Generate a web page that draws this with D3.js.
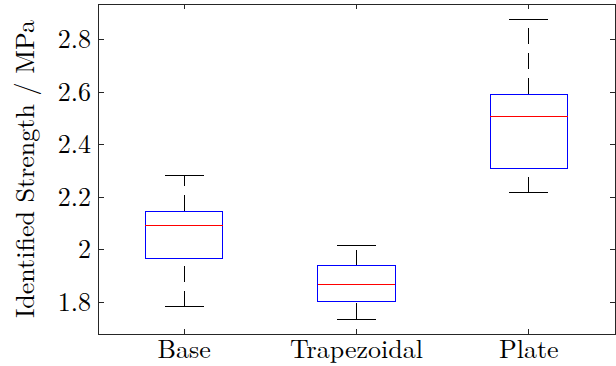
<!DOCTYPE html>
<html>
<head>
<meta charset="utf-8">
<script src="https://d3js.org/d3.v7.min.js"></script>
</head>
<body style="margin:0; background:#fff">
<script>
// values
var categories = ["Base", "Trapezoidal", "Plate"];
var lowerWhisker = [1.780, 1.734, 2.215];
var q1 = [1.964, 1.801, 2.307];
var median = [2.090, 1.864, 2.507];
var q3 = [2.145, 1.937, 2.590];
var upperWhisker = [2.279, 2.013, 2.877];
var yTicks = [1.8, 2, 2.2, 2.4, 2.6, 2.8];
var yLabel = "Identified Strength / MPa";

var margin = {top: 4, right: 1, bottom: 32, left: 98};
var width = 616 - margin.left - margin.right;
var height = 366 - margin.top - margin.bottom;
var fontSize = 26;
var fontFamily = "'Latin Modern Roman', 'Liberation Serif', serif";

var boxes = categories.map(function(c, i) {
  return {name: c, lo: lowerWhisker[i], q1: q1[i], med: median[i], q3: q3[i], hi: upperWhisker[i]};
});

// 5% padding round the data range, like the auto limits of the original
var yMin = d3.min(lowerWhisker), yMax = d3.max(upperWhisker);
var pad = (yMax - yMin) * 0.05;

var x = d3.scaleBand().domain(categories).range([0, width]).padding(0);
var y = d3.scaleLinear().domain([yMin - pad, yMax + pad]).range([height, 0]);

var boxW = x.bandwidth() * 0.45;
var capW = boxW / 2;
function cx(d) { return x(d.name) + x.bandwidth() / 2; }

var svg = d3.select("body").append("svg")
  .attr("width", 616)
  .attr("height", 366)
  .attr("font-family", fontFamily)
  .style("display", "block");

var g = svg.append("g")
  .attr("transform", "translate(" + margin.left + "," + margin.top + ")");

// axes with inward ticks on all four sides
function styleAxis(sel) {
  sel.attr("font-family", fontFamily).attr("font-size", fontSize);
  sel.select(".domain").remove();
  sel.selectAll("line").attr("stroke", "#262626").attr("shape-rendering", "crispEdges");
  sel.selectAll("text").attr("fill", "#000");
}

g.append("g")
  .call(d3.axisLeft(y).tickValues(yTicks).tickSize(-6).tickPadding(7).tickFormat(function(d) { return String(d); }))
  .call(styleAxis);

g.append("g")
  .attr("transform", "translate(" + width + ",0)")
  .call(d3.axisRight(y).tickValues(yTicks).tickSize(-5).tickFormat(""))
  .call(styleAxis);

g.append("g")
  .attr("transform", "translate(0," + height + ")")
  .call(d3.axisBottom(x).tickSize(-5).tickPadding(5.5))
  .call(styleAxis);

g.append("g")
  .call(d3.axisTop(x).tickSize(-5).tickFormat(""))
  .call(styleAxis);

g.append("rect")
  .attr("x", 0.5).attr("y", 0.5)
  .attr("width", width - 0.5).attr("height", height - 0.5)
  .attr("fill", "none")
  .attr("stroke", "#262626")
  .attr("shape-rendering", "crispEdges");

var box = g.selectAll(".box")
  .data(boxes)
  .enter()
  .append("g")
    .attr("class", "box")
    .attr("shape-rendering", "crispEdges");

// whiskers are drawn bottom to top, so the dash pattern starts low
box.append("line")
  .attr("x1", cx).attr("x2", cx)
  .attr("y1", function(d) { return y(d.q3); })
  .attr("y2", function(d) { return y(d.hi); })
  .attr("stroke", "#000")
  .attr("stroke-dasharray", "16,9");

box.append("line")
  .attr("x1", cx).attr("x2", cx)
  .attr("y1", function(d) { return y(d.lo); })
  .attr("y2", function(d) { return y(d.q1); })
  .attr("stroke", "#000")
  .attr("stroke-dasharray", "16,9");

["hi", "lo"].forEach(function(k) {
  box.append("line")
    .attr("x1", function(d) { return cx(d) - capW / 2; })
    .attr("x2", function(d) { return cx(d) + capW / 2; })
    .attr("y1", function(d) { return y(d[k]); })
    .attr("y2", function(d) { return y(d[k]); })
    .attr("stroke", "#000");
});

box.append("rect")
  .attr("x", function(d) { return cx(d) - boxW / 2; })
  .attr("y", function(d) { return y(d.q3); })
  .attr("width", boxW)
  .attr("height", function(d) { return y(d.q1) - y(d.q3); })
  .attr("fill", "none")
  .attr("stroke", "#0000ff");

box.append("line")
  .attr("x1", function(d) { return cx(d) - boxW / 2; })
  .attr("x2", function(d) { return cx(d) + boxW / 2; })
  .attr("y1", function(d) { return y(d.med); })
  .attr("y2", function(d) { return y(d.med); })
  .attr("stroke", "#ff0000");

svg.append("text")
  .attr("transform", "translate(34," + (margin.top + height / 2) + ") rotate(-90)")
  .attr("text-anchor", "middle")
  .attr("font-size", fontSize)
  .attr("fill", "#000")
  .text(yLabel);
</script>
</body>
</html>
